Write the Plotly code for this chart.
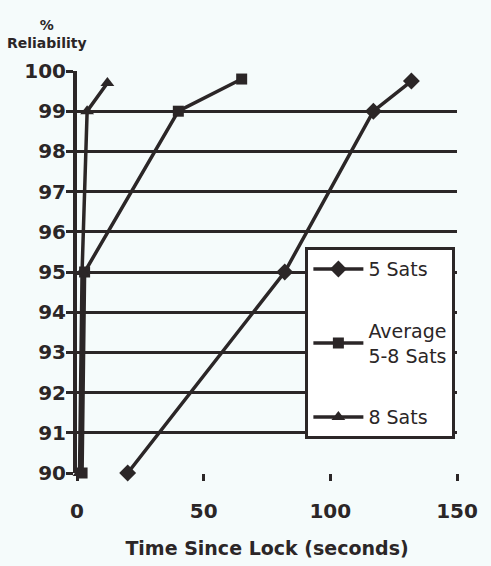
import plotly.graph_objects as go

sats5_x = [20, 82, 117, 132]
sats5_y = [90, 95, 99, 99.75]
avg_x = [2, 3, 40, 65]
avg_y = [90, 95, 99, 99.8]
sats8_x = [1, 2, 4, 12]
sats8_y = [90, 95, 99, 99.7]

x_ticks = [0, 50, 100, 150]
y_ticks = list(range(90, 101))

ink = "#2b2627"
bg = "#f5fbfb"
fnt = "DejaVu Sans"

fig = go.Figure()
fig.add_trace(go.Scatter(x=sats5_x, y=sats5_y, name="5 Sats", mode="lines+markers",
                         line=dict(color=ink, width=3.5),
                         marker=dict(symbol="diamond", size=13, color=ink),
                         cliponaxis=False, legendgroup="a"))
fig.add_trace(go.Scatter(x=avg_x, y=avg_y, name="Average<br>5-8 Sats", mode="lines+markers",
                         line=dict(color=ink, width=3.5),
                         marker=dict(symbol="square", size=11, color=ink),
                         cliponaxis=False, legendgroup="b"))
fig.add_trace(go.Scatter(x=sats8_x, y=sats8_y, name="8 Sats", mode="lines+markers",
                         line=dict(color=ink, width=3.5),
                         marker=dict(symbol="triangle-up", size=12, color=ink),
                         cliponaxis=False, legendgroup="c"))

fig.update_layout(
    width=491, height=566,
    margin=dict(l=77, r=34, t=71, b=93),
    paper_bgcolor=bg, plot_bgcolor=bg,
    showlegend=True,
    legend=dict(x=0.601, y=0.562, xanchor="left", yanchor="top",
                bgcolor="#ffffff", bordercolor=ink, borderwidth=3,
                font=dict(family=fnt, size=19, color=ink),
                tracegroupgap=34, itemwidth=50),
    font=dict(family=fnt, color=ink),
)
fig.update_xaxes(range=[0, 150], tickvals=x_ticks, ticks="outside", ticklen=7, tickwidth=3,
                 tickcolor=ink, showgrid=False, zeroline=False, showline=False,
                 tickfont=dict(family=fnt, size=20, color=ink, weight="bold"),
                 ticklabelstandoff=13,
                 title=dict(text="Time Since Lock (seconds)", standoff=19,
                            font=dict(family=fnt, size=19, color=ink, weight="bold")))
fig.update_yaxes(range=[90, 100], tickvals=y_ticks, ticks="outside", ticklen=7, tickwidth=3,
                 tickcolor=ink, showgrid=True, gridcolor=ink, gridwidth=3, zeroline=False,
                 showline=True, linecolor=ink, linewidth=4,
                 tickfont=dict(family=fnt, size=20, color=ink, weight="bold"),
                 ticklabelstandoff=-4)

fig.add_annotation(text="%<br>Reliability", xref="paper", yref="paper", x=-0.08, y=1.045,
                   xanchor="center", yanchor="bottom", showarrow=False, align="center",
                   font=dict(family=fnt, size=14, color=ink, weight="bold"))

fig.write_html("out.html", config={"displayModeBar": False},
               post_script="document.body.style.margin='0';document.body.style.background='%s';" % bg)
